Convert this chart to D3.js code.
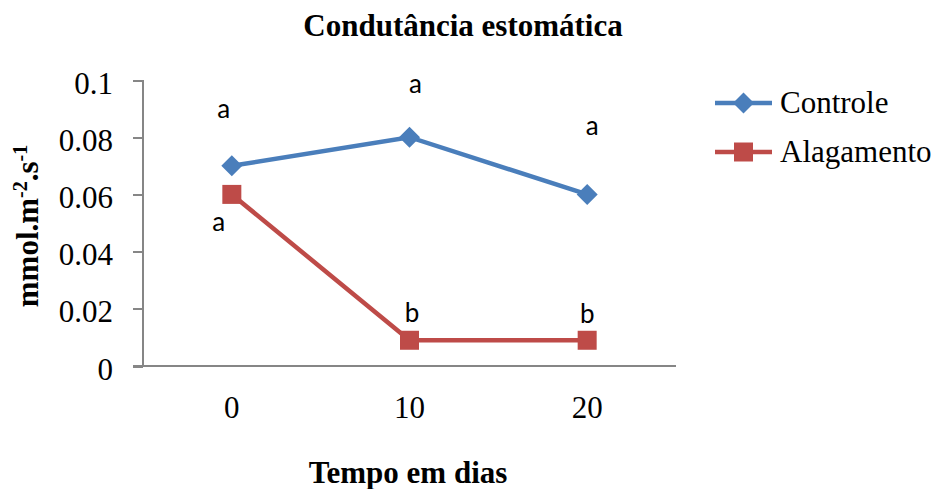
<!DOCTYPE html>
<html lang="pt">
<head>
    <meta charset="UTF-8">
    <title>Condutância estomática</title>
    <script src="https://cdn.jsdelivr.net/npm/d3@7"></script>
    <style>
        body { margin: 0; background: #fff; }
        svg text { font-family: "Liberation Serif", "Times New Roman", serif; fill: #000; }
    </style>
</head>
<body>
<script>
    // data
    var dias = ['0', '10', '20'];
    var controle = [0.07, 0.08, 0.06];
    var alagamento = [0.06, 0.009, 0.009];
    var letrasControle = ['a', 'a', 'a'];
    var letrasAlagamento = ['a', 'b', 'b'];
    var yTicks = [0, 0.02, 0.04, 0.06, 0.08, 0.1];

    var w = 936, h = 489;
    var mLeft = 143, mRight = 676, mTop = 80, mBottom = 366;
    var serif = '"Liberation Serif", "Times New Roman", serif';

    var svg = d3.select('body').append('svg')
        .attr('width', w)
        .attr('height', h);

    var xScale = d3.scaleBand().domain(dias).range([mLeft, mRight]);
    var yScale = d3.scaleLinear().domain([0, 0.1]).range([mBottom, mTop]);

    function styleAxis(g) {
        g.selectAll('path, line').attr('stroke', '#868686').attr('stroke-width', 2)
            .attr('shape-rendering', 'crispEdges');
        g.selectAll('text').style('font-family', serif).style('font-size', '31px').attr('fill', '#000');
    }

    // y axis
    svg.append('g')
        .attr('transform', 'translate(' + mLeft + ',0)')
        .call(d3.axisLeft(yScale).tickValues(yTicks).tickSize(10).tickPadding(20)
            .tickFormat(function(d) { return d === 0 ? '0' : d3.format('~g')(d); }))
        .call(function(g) { g.select('.domain').attr('d', 'M0,' + mTop + 'V' + mBottom); })
        .call(styleAxis)
        .call(function(g) { g.selectAll('text').attr('dy', '0.42em'); });

    // x axis
    svg.append('g')
        .attr('transform', 'translate(0,' + mBottom + ')')
        .call(d3.axisBottom(xScale).tickSize(0).tickPadding(41))
        .call(function(g) { g.select('.domain').attr('d', 'M' + (mLeft - 10) + ',0H' + mRight); })
        .call(styleAxis)
        .call(function(g) { g.selectAll('text').attr('dy', '0.35em'); });

    var cx = function(d, i) { return xScale(dias[i]) + xScale.bandwidth() / 2; };

    var line = d3.line()
        .x(function(d, i) { return xScale(dias[i]) + xScale.bandwidth() / 2; })
        .y(function(d) { return yScale(d); });

    var diamond = { draw: function(ctx) { var r = 10.5; ctx.moveTo(0, -r); ctx.lineTo(r, 0); ctx.lineTo(0, r); ctx.lineTo(-r, 0); ctx.closePath(); } };
    var square = { draw: function(ctx) { var r = 9.5; ctx.rect(-r, -r, 2 * r, 2 * r); } };

    var series = [
        { name: 'Controle', values: controle, color: '#4a7ebb', shape: diamond, letters: letrasControle },
        { name: 'Alagamento', values: alagamento, color: '#be4b48', shape: square, letters: letrasAlagamento }
    ];

    series.forEach(function(s) {
        svg.append('path')
            .datum(s.values)
            .attr('d', line)
            .attr('fill', 'none')
            .attr('stroke', s.color)
            .attr('stroke-width', 4.5);
        svg.selectAll(null)
            .data(s.values)
            .enter()
            .append('path')
            .attr('d', d3.symbol().type(s.shape))
            .attr('transform', function(d, i) { return 'translate(' + cx(d, i) + ',' + yScale(d) + ')'; })
            .attr('fill', s.color);
    });

    // letter labels (baseline offsets from each point)
    var labelOffsets = {
        Controle: [[-8, -48], [6, -44], [5, -59]],
        Alagamento: [[-13, 37], [2.5, -18], [0, -17]]
    };
    series.forEach(function(s) {
        svg.selectAll(null)
            .data(s.values)
            .enter()
            .append('text')
            .attr('x', function(d, i) { return cx(d, i) + labelOffsets[s.name][i][0]; })
            .attr('y', function(d, i) { return yScale(d) + labelOffsets[s.name][i][1]; })
            .attr('text-anchor', 'middle')
            .style('font-family', 'Lato, "Open Sans", sans-serif')
            .style('font-size', '26px')
            .text(function(d, i) { return s.letters[i]; });
    });

    // titles
    svg.append('text')
        .attr('x', 463).attr('y', 36)
        .attr('text-anchor', 'middle')
        .style('font-size', '31px').style('font-weight', 'bold')
        .text('Condutância estomática');

    svg.append('text')
        .attr('x', 408).attr('y', 483)
        .attr('text-anchor', 'middle')
        .style('font-size', '31px').style('font-weight', 'bold')
        .text('Tempo em dias');

    var yLabel = svg.append('text')
        .attr('transform', 'translate(38,226) rotate(-90)')
        .attr('text-anchor', 'middle')
        .style('font-size', '31px').style('font-weight', 'bold');
    yLabel.append('tspan').text('mmol.m');
    yLabel.append('tspan').attr('dy', -11).style('font-size', '20px').text('-2');
    yLabel.append('tspan').attr('dy', 11).text('.s');
    yLabel.append('tspan').attr('dy', -11).style('font-size', '20px').text('-1');

    // legend
    var legend = svg.append('g').attr('transform', 'translate(715,103)');
    series.forEach(function(s, i) {
        var g = legend.append('g').attr('transform', 'translate(0,' + (i * 49) + ')');
        g.append('line').attr('x1', 0).attr('x2', 57).attr('y1', 0).attr('y2', 0)
            .attr('stroke', s.color).attr('stroke-width', 4.5);
        g.append('path')
            .attr('d', d3.symbol().type(s.shape))
            .attr('transform', 'translate(28.5,0)')
            .attr('fill', s.color);
        g.append('text')
            .attr('x', 65).attr('y', 0)
            .attr('dy', '0.33em')
            .style('font-size', '31px')
            .text(s.name);
    });
</script>
</body>
</html>
